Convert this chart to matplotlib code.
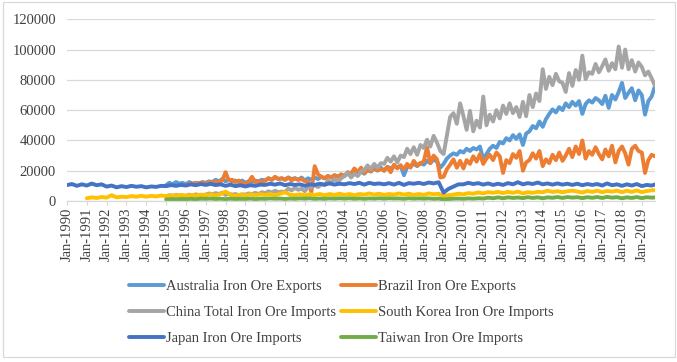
import numpy as np
import pandas as pd
import matplotlib
matplotlib.use("Agg")
import matplotlib.pyplot as plt
import matplotlib.dates as mdates
from matplotlib.patches import Rectangle

# values, thousands of tonnes per month
# bimonthly points (Jan, Mar, May, Jul, Sep, Nov)
china = [
    3.0, 3.8, 3.2, 4.0, 3.5, 3.6,
    3.4, 4.2, 3.6, 4.4, 3.8, 4.0,
    4.2, 5.0, 4.4, 5.2, 4.6, 5.5,
    4.0, 4.8, 4.2, 4.6, 3.8, 4.4,
    4.2, 5.0, 4.4, 5.4, 4.6, 5.8,
    5.2, 6.4, 5.6, 6.8, 5.8, 6.2,
    6.0, 8.2, 7.0, 8.6, 7.4, 8.0,
    6.5, 9.5, 8.8, 10.5, 9.2, 11.0,
    10.5, 13.5, 12.0, 14.5, 12.5, 15.0,
    16.5, 19.0, 15.5, 18.0, 16.5, 19.5,
    20.5, 23.5, 21.0, 24.5, 22.0, 25.0,
    24.5, 28.5, 26.0, 29.5, 25.5, 30.0,
    29.0, 34.5, 31.0, 35.5, 30.5, 37.0,
    35.0, 40.5, 36.0, 43.0, 38.5, 33.0,
    31.0, 43.0, 55.5, 58.0, 51.0, 64.5,
    56.0, 47.0, 59.5, 46.0, 53.0, 48.5,
    69.0, 50.0, 57.0, 52.5, 60.0, 54.5,
    63.0, 57.5, 64.5, 58.0, 62.0, 55.5,
    65.5, 56.0, 70.0, 62.0, 71.0, 66.0,
    87.0, 74.0, 82.0, 76.5, 84.0, 79.0,
    78.0, 72.0, 84.5, 76.0, 86.5, 80.0,
    96.0, 80.5, 85.0, 84.0, 90.5, 85.0,
    89.0, 93.5, 86.0, 91.0, 87.0, 102.0,
    88.0, 100.0, 87.0, 93.0, 85.5, 91.5,
    88.5, 83.0, 85.5, 81.0, 76.0,
]
australia = [
    10.5, 12.0, 11.0, 12.5, 11.5, 12.0,
    11.0, 12.5, 11.5, 12.0, 11.8, 12.5,
    12.0, 13.0, 12.5, 14.0, 13.0, 14.5,
    13.0, 14.0, 13.0, 13.5, 12.5, 13.5,
    12.0, 13.0, 12.5, 13.5, 13.0, 14.0,
    13.5, 15.0, 14.0, 15.5, 14.5, 15.0,
    14.0, 15.5, 14.5, 15.0, 14.0, 15.5,
    13.5, 15.0, 14.0, 15.5, 14.5, 16.0,
    15.0, 16.5, 15.5, 17.0, 16.0, 17.5,
    16.5, 18.0, 17.0, 19.0, 18.0, 19.5,
    18.0, 20.5, 19.5, 21.5, 20.0, 22.0,
    20.0, 22.5, 21.5, 23.0, 22.0, 23.5,
    17.0, 22.5, 23.0, 24.5, 23.0, 25.0,
    24.0, 26.5, 25.0, 27.5, 26.0, 22.0,
    24.5, 28.0, 30.0, 31.5, 30.5, 33.0,
    32.0, 34.5, 33.0, 35.0, 34.0, 36.0,
    27.5, 31.0, 34.5, 36.5, 35.0, 39.0,
    38.0, 41.5, 40.0, 43.5, 41.0, 44.0,
    37.0, 44.5, 46.0, 49.5, 48.0, 52.5,
    49.0, 54.0, 57.5, 60.5, 58.5, 62.0,
    60.0, 64.5, 62.0, 65.5, 63.0, 66.0,
    57.5, 64.0, 66.5, 65.0, 68.0, 66.5,
    64.0, 69.5, 61.5, 70.0, 67.0, 72.0,
    78.0, 68.0, 71.5, 74.5, 66.5, 73.0,
    70.0, 57.0, 66.0, 69.0, 76.0,
]
brazil = [
    10.5, 11.5, 11.0, 12.0, 11.5, 12.0,
    11.5, 12.5, 12.0, 13.0, 12.5, 13.5,
    19.0, 13.5, 14.0, 12.5, 13.5, 12.0,
    11.0, 12.5, 16.0, 12.5, 13.0, 12.5,
    13.5, 15.0, 14.0, 16.0, 14.5, 15.0,
    14.0, 15.5, 13.5, 15.0, 14.0, 14.5,
    13.0, 12.5, 6.0, 23.0, 17.5, 16.0,
    15.0, 16.5, 15.5, 17.0, 16.0, 17.5,
    16.5, 19.0, 18.0, 21.5, 19.0, 22.0,
    18.5, 20.5, 19.5, 22.0, 20.5, 21.0,
    20.0, 22.5, 19.0, 24.0, 21.5, 23.5,
    21.0, 24.5, 22.0, 26.5, 23.5, 25.0,
    26.0, 35.5, 25.0, 30.0, 27.5, 15.5,
    16.0, 21.0, 24.0, 27.5, 22.0, 26.5,
    21.5, 27.0, 24.5, 29.5, 26.0, 31.0,
    24.5, 28.0, 30.5, 27.0, 32.0, 29.5,
    18.5, 27.0, 25.0, 31.0, 28.5, 33.0,
    20.0, 25.5, 27.0, 31.5, 28.0, 33.0,
    23.0, 27.5, 25.0, 30.5, 27.0, 32.0,
    26.5, 30.0, 34.5, 29.0, 36.0, 31.0,
    40.0, 28.0, 33.0, 30.5, 35.5, 31.0,
    27.5, 34.0, 29.5, 36.5, 25.5, 33.0,
    36.0, 31.5, 24.0, 34.5, 36.5, 33.0,
    32.0, 18.5, 27.0, 30.5, 29.5,
]
# quarterly points (Jan, Apr, Jul, Oct)
japan = [
    10.5, 11.2, 10.0, 11.0,
    10.2, 11.5, 10.4, 11.0,
    9.5, 10.2, 9.0, 9.8,
    9.2, 10.0, 9.4, 9.8,
    9.0, 9.6, 9.3, 10.0,
    9.8, 10.5, 10.0, 10.6,
    10.2, 11.0, 10.4, 11.2,
    10.6, 11.3, 10.5, 11.0,
    10.0, 10.8, 9.8, 10.4,
    9.6, 10.4, 10.0, 10.8,
    10.6, 11.4, 10.8, 11.6,
    10.4, 11.2, 10.6, 11.0,
    10.0, 11.0, 10.6, 11.4,
    10.8, 11.6, 10.8, 11.4,
    11.0, 11.8, 11.2, 12.0,
    10.8, 12.0, 11.2, 11.6,
    11.0, 11.8, 10.8, 12.0,
    10.6, 11.8, 11.4, 12.0,
    11.2, 12.2, 11.6, 12.4,
    5.5, 8.0, 9.5, 11.0,
    11.0, 12.0, 11.2, 11.8,
    10.8, 11.6, 10.6, 11.4,
    10.6, 11.8, 11.0, 12.4,
    11.0, 11.8, 11.2, 12.2,
    11.0, 11.6, 10.8, 11.6,
    10.8, 11.4, 10.6, 11.4,
    10.4, 11.2, 10.6, 11.2,
    10.2, 11.6, 10.4, 11.0,
    10.0, 11.0, 10.2, 11.2,
    9.8, 10.6, 10.2, 11.2,
]
korea = [
    1.8, 2.4, 2.0, 2.6,
    2.2, 3.8, 2.4, 2.8,
    2.6, 3.2, 2.8, 3.4,
    2.8, 3.4, 3.0, 3.6,
    3.2, 3.8, 3.4, 4.0,
    3.4, 4.0, 3.6, 4.2,
    3.8, 4.4, 3.6, 4.6,
    6.2, 4.0, 3.4, 4.2,
    3.6, 4.4, 3.8, 4.4,
    4.0, 4.6, 3.8, 4.8,
    5.8, 4.2, 3.8, 4.4,
    3.8, 4.4, 4.0, 4.6,
    3.8, 4.6, 4.0, 4.8,
    4.0, 4.6, 3.8, 4.6,
    4.2, 5.0, 4.2, 4.8,
    4.0, 4.6, 4.2, 5.0,
    4.2, 4.8, 4.0, 4.6,
    4.0, 5.0, 4.4, 4.8,
    3.2, 3.8, 4.2, 4.8,
    4.4, 5.2, 4.8, 5.6,
    5.0, 5.8, 5.4, 6.0,
    5.2, 6.0, 5.4, 6.2,
    5.0, 5.8, 5.4, 6.0,
    5.8, 6.8, 6.0, 6.4,
    5.8, 6.4, 6.8, 6.2,
    5.6, 6.6, 6.0, 6.8,
    5.8, 6.6, 6.2, 6.8,
    5.8, 6.8, 6.0, 7.0,
    5.8, 6.6, 7.0, 7.2,
]
taiwan = [
    1.0, 1.2, 1.1, 1.3,
    1.2, 1.4, 1.2, 1.5,
    1.4, 1.6, 1.3, 1.5,
    1.2, 1.5, 1.3, 1.4,
    1.3, 1.6, 1.2, 1.5,
    1.4, 1.7, 1.5, 1.6,
    1.3, 1.6, 1.4, 1.7,
    1.5, 1.8, 1.4, 1.6,
    1.4, 1.7, 1.5, 1.8,
    1.5, 1.8, 1.4, 1.7,
    1.4, 1.7, 1.5, 1.8,
    1.5, 1.8, 1.6, 1.7,
    1.4, 1.8, 1.5, 1.7,
    1.5, 1.7, 1.4, 1.6,
    1.0, 1.3, 1.5, 1.6,
    1.4, 1.7, 1.5, 1.8,
    1.6, 2.2, 1.8, 2.4,
    1.8, 2.4, 2.0, 2.3,
    1.9, 2.5, 2.0, 2.4,
    1.8, 2.4, 2.1, 2.6,
    2.0, 2.6, 2.2, 2.5,
    1.9, 2.5, 2.1, 2.6,
    2.0, 2.7, 2.2, 2.5,
    1.8, 2.4, 2.0, 2.6,
    1.9, 2.5, 2.2, 2.4,
]

# name, values, first month, step, colour
series = [
    ("Australia Iron Ore Exports", australia, "1995-01-01", "2MS", "#5B9BD5"),
    ("Brazil Iron Ore Exports", brazil, "1996-01-01", "2MS", "#ED7D31"),
    ("China Total Iron Ore Imports", china, "1995-01-01", "2MS", "#A5A5A5"),
    ("South Korea Iron Ore Imports", korea, "1991-01-01", "QS-JAN", "#FFC000"),
    ("Japan Iron Ore Imports", japan, "1990-01-01", "QS-JAN", "#4472C4"),
    ("Taiwan Iron Ore Imports", taiwan, "1995-01-01", "QS-JAN", "#70AD47"),
]

plt.rcParams['font.family'] = ['Liberation Serif', 'DejaVu Serif']
txt_col = "#404040"
grid_col = "#D9D9D9"

fig = plt.figure(figsize=(6.77, 3.62), dpi=100)
ax = fig.add_axes([0.099, 0.4448, 0.8685, 0.5019])

lines = {}
for name, vals, start, step, col in series:
    dates = pd.date_range(start, periods=len(vals), freq=step)
    ln, = ax.plot(dates, np.array(vals) * 1000, color=col, lw=2.8,
                  solid_joinstyle='round', solid_capstyle='round', label=name)
    lines[name] = ln

ax.set_xlim(pd.Timestamp("1990-01-01"), pd.Timestamp("2019-09-01"))
ax.set_ylim(0, 120000)
ax.set_yticks(np.arange(0, 120001, 20000))
ax.yaxis.grid(True, color=grid_col, lw=0.9)
ax.set_axisbelow(True)
for s in ["top", "right", "left"]:
    ax.spines[s].set_visible(False)
ax.spines["bottom"].set_color(grid_col)
ax.spines["bottom"].set_linewidth(0.9)

ax.xaxis.set_major_locator(mdates.YearLocator(1, month=1))
ax.xaxis.set_major_formatter(mdates.DateFormatter("%b-%Y"))
ax.tick_params(axis='x', direction='out', length=3, width=0.9, color=grid_col,
               labelsize=10.5, labelcolor=txt_col, pad=2, labelrotation=90)
ax.tick_params(axis='y', length=0, labelsize=10.5, labelcolor=txt_col, pad=8)

order = ["Australia Iron Ore Exports", "China Total Iron Ore Imports",
         "Japan Iron Ore Imports", "Brazil Iron Ore Exports",
         "South Korea Iron Ore Imports", "Taiwan Iron Ore Imports"]
leg = fig.legend([lines[n] for n in order], order, ncol=2, frameon=False,
                 loc='upper left', bbox_to_anchor=(0.18, 0.247),
                 fontsize=10.5, handlelength=2.4, handletextpad=0.15,
                 columnspacing=0.3, labelspacing=0.87, borderpad=0)
for t in leg.get_texts():
    t.set_color(txt_col)

fig.patches.append(Rectangle((3 / 677, 1 - 357 / 362), 672 / 677, 355 / 362,
                             transform=fig.transFigure, fill=False,
                             edgecolor=grid_col, lw=0.9))

fig.savefig("out.png", dpi=100)
